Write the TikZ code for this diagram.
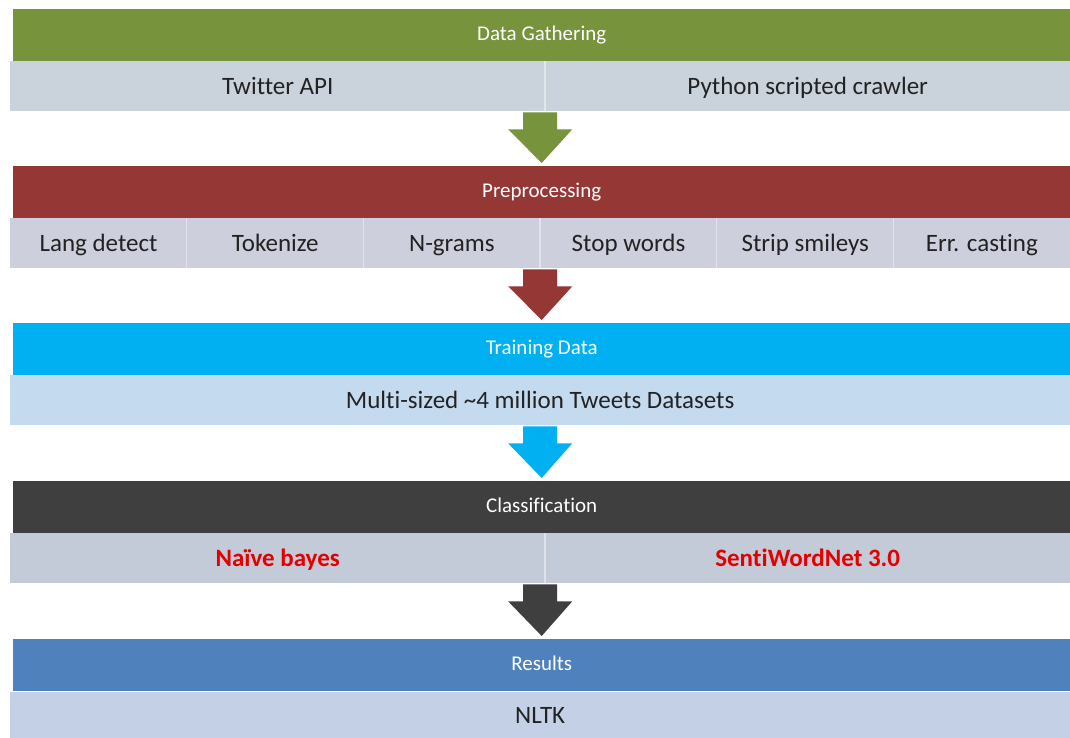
\documentclass[tikz,border=0pt]{standalone}
\usepackage{fontspec}
\setmainfont{Carlito}[Ligatures=NoCommon]
\usetikzlibrary{calc}
\definecolor{cGreen}{HTML}{77933C}
\definecolor{cRed}{HTML}{953735}
\definecolor{cCyan}{HTML}{00B0F0}
\definecolor{cDark}{HTML}{3F3F3F}
\definecolor{cBlue}{HTML}{4F81BD}
\definecolor{sGreen}{HTML}{CAD3DB}
\definecolor{sRed}{HTML}{CDCFDC}
\definecolor{sCyan}{HTML}{C4DAEE}
\definecolor{sDark}{HTML}{C3CAD8}
\definecolor{sBlue}{HTML}{C3D0E5}
\definecolor{txt}{HTML}{222222}
\definecolor{redtxt}{HTML}{E50000}
\tikzset{
  hdr/.style={anchor=north west, minimum width=1057pt, minimum height=52pt, inner sep=0pt,
    text height=15pt, text depth=4pt,
    text=white, font=\fontsize{21}{24}\selectfont},
  cell/.style={anchor=north west, minimum height=50pt, inner sep=0pt,
    text height=19pt, text depth=3pt,
    text=txt, font=\fontsize{25}{28}\selectfont},
  divider/.style={draw=white, draw opacity=0.45, line width=1.2pt},
}
\newcommand\blockarrow[3]{%
  \fill[#1] ($(#2.south)+(-17,1)$) -- ($(#2.south)+(17,1)$) -- ($(#2.south)+(17,18)$)
    -- ($(#2.south)+(32,18)$) -- ($(#3.north)+(0,-3)$) -- ($(#2.south)+(-32,18)$)
    -- ($(#2.south)+(-17,18)$) -- cycle;}
\begin{document}
\begin{tikzpicture}[x=1pt,y=-1pt]
\useasboundingbox[fill=white] (0,0) rectangle (1070,738);
% Row 1
\node[hdr, fill=cGreen] (h1) at (13,9) {Data Gathering};
\node[cell, fill=sGreen, minimum width=1060pt] (s1) at (10,61) {};
\node[cell, minimum width=535pt] (s1a) at (10,61) {Twitter API};
\node[cell, minimum width=525pt] (s1b) at (545,61) {Python scripted crawler};
\draw[divider] (s1b.north west) -- (s1b.south west);
% Row 2
\node[hdr, fill=cRed] (h2) at (13,166) {Preprocessing};
\node[cell, fill=sRed, minimum width=1060pt] (s2) at (10,218) {};
\node[cell, minimum width=176.7pt] (c1) at (10,218) {Lang detect};
\node[cell, minimum width=176.7pt] (c2) at (186.7,218) {Tokenize};
\node[cell, minimum width=176.7pt] (c3) at (363.3,218) {N-grams};
\node[cell, minimum width=176.7pt] (c4) at (540,218) {Stop words};
\node[cell, minimum width=176.7pt] (c5) at (716.7,218) {Strip smileys};
\node[cell, minimum width=176.7pt] (c6) at (893.3,218) {Err. casting};
\foreach \c in {c2,c3,c4,c5,c6} \draw[divider] (\c.north west) -- (\c.south west);
% Row 3
\node[hdr, fill=cCyan] (h3) at (13,323) {Training Data};
\node[cell, fill=sCyan, minimum width=1060pt] (s3) at (10,375) {Multi-sized \textasciitilde4 million Tweets Datasets};
% Row 4
\node[hdr, fill=cDark] (h4) at (13,481) {Classification};
\node[cell, fill=sDark, minimum width=1060pt] (s4) at (10,533) {};
\node[cell, minimum width=535pt, text=redtxt, font=\fontsize{25}{28}\selectfont\bfseries] (s4a) at (10,533) {Naïve bayes};
\node[cell, minimum width=525pt, text=redtxt, font=\fontsize{25}{28}\selectfont\bfseries] (s4b) at (545,533) {SentiWordNet 3.0};
\draw[divider] (s4b.north west) -- (s4b.south west);
% Row 5
\node[hdr, fill=cBlue] (h5) at (13,639) {Results};
\node[cell, fill=sBlue, minimum width=1060pt, minimum height=46pt] (s5) at (10,692) {NLTK};
% Arrows
\blockarrow{cGreen}{s1}{h2}
\blockarrow{cRed}{s2}{h3}
\blockarrow{cCyan}{s3}{h4}
\blockarrow{cDark}{s4}{h5}
\end{tikzpicture}
\end{document}
